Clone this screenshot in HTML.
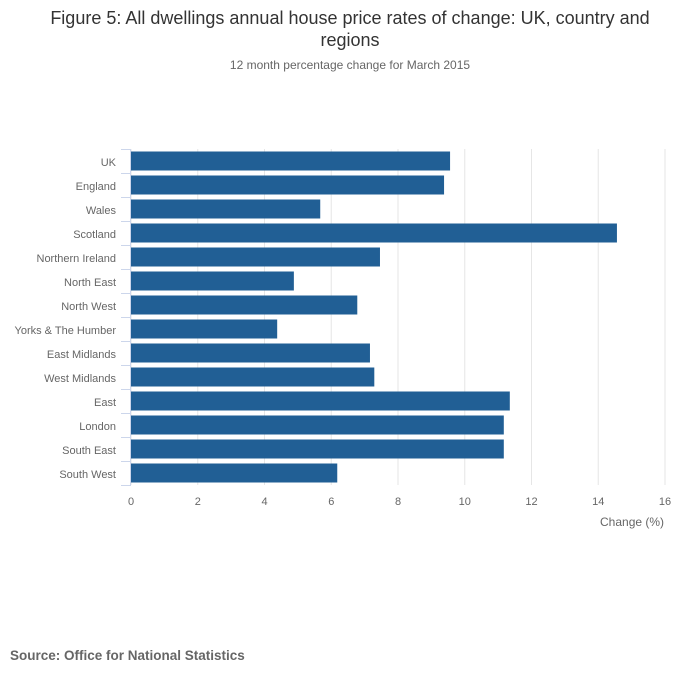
<!DOCTYPE html>
<html><head><meta charset="utf-8"><style>
body{margin:0;background:#fff;font-family:"Liberation Sans",sans-serif;}
#wrap{position:relative;width:700px;height:682px;}
</style></head><body>
<div id="wrap">
<svg id="svg" width="700" height="682" xmlns="http://www.w3.org/2000/svg">
<text x="350" y="24" text-anchor="middle" font-size="18" fill="#333">Figure 5: All dwellings annual house price rates of change: UK, country and</text>
<text x="350" y="46" text-anchor="middle" font-size="18" fill="#333">regions</text>
<text x="350" y="69" text-anchor="middle" font-size="12" fill="#666">12 month percentage change for March 2015</text>
<text x="600" y="526" font-size="12" fill="#666">Change (%)</text>
<text x="10" y="660" font-size="13.5" font-weight="bold" fill="#666">Source: Office for National Statistics</text>
<g id="grid"></g><g id="bars"></g><g id="axes"></g>
</svg>
</div>
<script>
const categories=["UK","England","Wales","Scotland","Northern Ireland","North East","North West","Yorks & The Humber","East Midlands","West Midlands","East","London","South East","South West"];
const values=[9.56,9.38,5.67,14.56,7.46,4.88,6.78,4.38,7.16,7.29,11.35,11.17,11.17,6.18];
const xTicks=[0,2,4,6,8,10,12,14,16];
const NS="http://www.w3.org/2000/svg";
const X0=131,X1=665,Y0=149,Y1=485,XMAX=16;
const band=(Y1-Y0)/categories.length;
function xs(v){return X0+(v/XMAX)*(X1-X0);}
function ys(i){return Y0+i*band;}
function mk(t,a,p){const e=document.createElementNS(NS,t);for(const k in a)e.setAttribute(k,a[k]);p.appendChild(e);return e;}
const grid=document.getElementById('grid'),bars=document.getElementById('bars'),axes=document.getElementById('axes');
xTicks.forEach(t=>{
 const l=mk('line',{x1:xs(t),x2:xs(t),y1:Y0,y2:Y1,stroke:'#e6e6e6','stroke-width':1},grid);
 
 
 const tx=mk('text',{x:xs(t),y:Y1+20,'text-anchor':'middle','font-size':11,fill:'#666'},axes);
 tx.textContent=t;
 
 
});
const ax=mk('line',{x1:X0-0.5,x2:X0-0.5,y1:Y0,y2:Y1,stroke:'#ccd6eb','stroke-width':1},axes);


for(let i=0;i<=categories.length;i++){
 const tk=mk('line',{x1:X0-10,x2:X0,y1:ys(i)+0.5,y2:ys(i)+0.5,stroke:'#ccd6eb','stroke-width':1},axes);
 
 
}
categories.forEach((c,i)=>{
 const r=mk('rect',{x:X0,y:ys(i)+2.5,width:xs(values[i])-X0,height:band-5,fill:'#215f95'},bars);
 
 
 const t=mk('text',{x:X0-15,y:ys(i)+band/2+5,'text-anchor':'end','font-size':11,fill:'#666'},axes);
 t.textContent=c;
 
 
});
</script>
</body></html>
